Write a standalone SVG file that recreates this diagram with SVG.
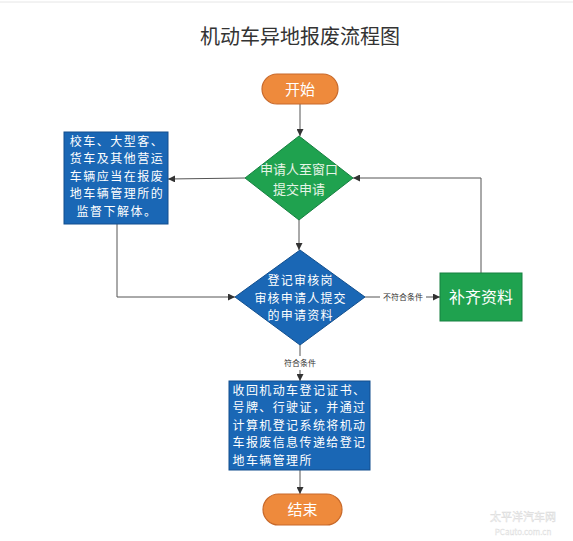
<svg xmlns="http://www.w3.org/2000/svg" width="573" height="541" viewBox="0 0 573 541">
<defs>
<marker id="arr" viewBox="0 0 10 10" refX="10" refY="5" markerWidth="7" markerHeight="7" orient="auto" markerUnits="userSpaceOnUse">
<path d="M0,0 L10,5 L0,10 z" fill="#333"/>
</marker>
<style>
.t{font-family:"Noto Sans CJK SC","Liberation Sans",sans-serif;}
.title{font-size:20px;fill:#333;}
.cap{fill:#fff;font-size:15px;}
.w{fill:#fff;font-size:12px;letter-spacing:1.5px;}
.g{fill:#e6f4e6;font-size:13px;}
.lbl{font-size:8px;fill:#333;}
.orange{fill:#ee8a3c;stroke:#c8692a;stroke-width:1.2;}
.green{fill:#1fa24f;stroke:#168040;stroke-width:1;}
.blue{fill:#1a67b5;stroke:#124f8e;stroke-width:1;}
.ln{fill:none;stroke:#555;stroke-width:1;}
</style>
</defs>
<rect width="573" height="541" fill="#fff"/>
<line x1="0" y1="2" x2="573" y2="2" stroke="#e6e6e6" stroke-width="1"/>
<text class="t title" x="300" y="44" text-anchor="middle">机动车异地报废流程图</text>

<g id="connectors">
<path class="ln" d="M300,104 L300,136" marker-end="url(#arr)"/>
<path class="ln" d="M245,178 L168,179" marker-end="url(#arr)"/>
<path class="ln" d="M117,224 L117,297 L235,297" marker-end="url(#arr)"/>
<path class="ln" d="M299,220 L299,250" marker-end="url(#arr)"/>
<path class="ln" d="M365,297 L380,297 M426,297 L440,297" marker-end="url(#arr)"/>
<path class="ln" d="M481,273 L481,178 L353,178" marker-end="url(#arr)"/>
<path class="ln" d="M300,345 L300,356 M300,370 L300,381" marker-end="url(#arr)"/>
<path class="ln" d="M300,470 L300,494" marker-end="url(#arr)"/>
<text class="t lbl" x="403" y="300" text-anchor="middle">不符合条件</text>
<text class="t lbl" x="300" y="366" text-anchor="middle">符合条件</text>
</g>

<g id="start">
<rect class="orange" x="262" y="74" width="76" height="30" rx="15"/>
<text class="t cap" x="300" y="94.5" text-anchor="middle">开始</text>
</g>

<g id="apply">
<polygon class="green" points="299,136 353,178 299,220 245,178"/>
<text class="t g" text-anchor="middle"><tspan x="299" y="174">申请人至窗口</tspan><tspan x="299" y="194">提交申请</tspan></text>
</g>

<g id="dismantle">
<rect class="blue" x="64" y="132" width="104" height="92"/>
<text class="t w" text-anchor="middle"><tspan x="117" y="145.5">校车、大型客、</tspan><tspan x="117" y="163">货车及其他营运</tspan><tspan x="117" y="180.5">车辆应当在报废</tspan><tspan x="117" y="198">地车辆管理所的</tspan><tspan x="117" y="215.5">监督下解体。</tspan></text>
</g>

<g id="review">
<polygon class="blue" points="300,250 365,297 300,345 235,297"/>
<text class="t w" text-anchor="middle" style="letter-spacing:1.2px"><tspan x="300.6" y="285">登记审核岗</tspan><tspan x="300.6" y="302.5">审核申请人提交</tspan><tspan x="300.6" y="320">的申请资料</tspan></text>
</g>

<g id="supplement">
<rect class="green" x="440" y="273" width="82" height="48"/>
<text class="t cap" x="481" y="302.5" text-anchor="middle" style="font-size:16px">补齐资料</text>
</g>

<g id="recover">
<rect class="blue" x="229" y="381" width="141" height="89"/>
<text class="t w" style="letter-spacing:1.4px"><tspan x="232.5" y="394.5">收回机动车登记证书、</tspan><tspan x="232.5" y="412">号牌、行驶证，并通过</tspan><tspan x="232.5" y="429.5">计算机登记系统将机动</tspan><tspan x="232.5" y="447">车报废信息传递给登记</tspan><tspan x="232.5" y="464.5">地车辆管理所</tspan></text>
</g>

<g id="end">
<rect class="orange" x="263" y="494" width="79" height="31" rx="15.5"/>
<text class="t cap" x="302.5" y="515" text-anchor="middle">结束</text>
</g>

<g id="watermark" opacity="0.35">
<text class="t" x="523" y="521" text-anchor="middle" style="font-size:11px;fill:#fff;stroke:#999;stroke-width:0.5">太平洋汽车网</text>
<text class="t" x="523" y="535" text-anchor="middle" style="font-size:8px;fill:#fff;stroke:#999;stroke-width:0.4">PCauto.com.cn</text>
</g>
</svg>
